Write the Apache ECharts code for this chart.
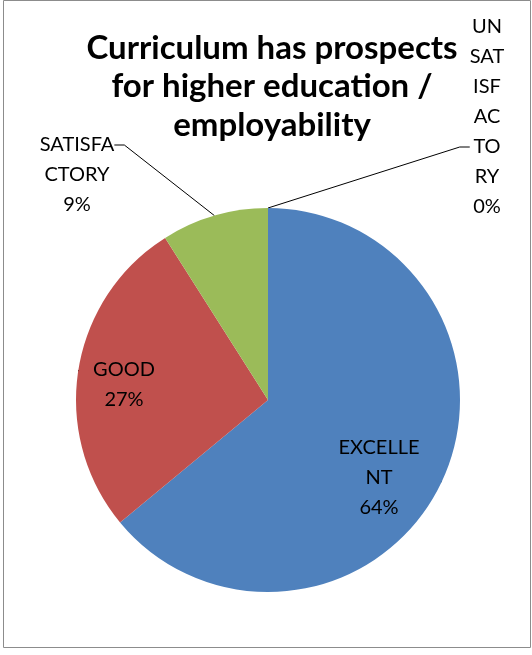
<!DOCTYPE html>
<html>
<head>
<meta charset="utf-8">
<script src="https://cdn.jsdelivr.net/npm/echarts@6/dist/echarts.min.js"></script>
<style>
  html, body { margin: 0; padding: 0; background: #fff; }
  #chart { width: 532px; height: 655px; }
</style>
</head>
<body>
<div id="chart"></div>
<script>
  // categories and shares (percent)
  var categories = ['EXCELLENT', 'GOOD', 'SATISFACTORY', 'UNSATISFACTORY']
  var values = [64, 27, 9, 0]
  // how the labels wrap in the picture
  var labelNames = ['EXCELLE\nNT', 'GOOD', 'SATISFA\nCTORY', 'UN\nSAT\nISF\nAC\nTO\nRY']
  var colors = ['#4F81BD', '#C0504D', '#9BBB59', '#8064A2']

  var chart = echarts.init(document.getElementById('chart'))

  // label centre + blank lines above/below so the leader line hits the right text line
  var labelPos = [
    { x: 379, y: 478, top: 0, bottom: 0 },
    { x: 124, y: 385, top: 0, bottom: 0 },
    { x: 77, y: 145, top: 2, bottom: 0 },
    { x: 487, y: 147, top: 0, bottom: 2 }
  ]

  function blank(n) {
    var s = ''
    for (let i = 0; i < n; i++) s += '\n'
    return s
  }

  var pieData = []
  for (let i = 0; i < categories.length; i++) {
    pieData.push({
      name: categories[i],
      value: values[i],
      itemStyle: { color: colors[i] }
    })
  }

  var option = {
    animation: false,
    title: {
      text: 'Curriculum has prospects\nfor higher education /\nemployability',
      left: 267,
      top: 24,
      textAlign: 'center',
      textStyle: {
        fontFamily: 'Lato',
        fontWeight: 'bold',
        fontSize: 33,
        lineHeight: 38.5,
        color: '#000'
      }
    },
    graphic: [{
      type: 'rect',
      shape: { x: 3.5, y: 0.5, width: 527, height: 647 },
      style: { fill: 'none', stroke: '#8c8c8c', lineWidth: 1 },
      silent: true
    }],
    series: [{
      type: 'pie',
      center: [268, 400],
      radius: 192,
      startAngle: 90,
      clockwise: true,
      minAngle: 0,
      avoidLabelOverlap: false,
      stillShowZeroSum: true,
      itemStyle: { borderWidth: 0 },
      label: {
        show: true,
        position: 'outside',
        formatter: function (p) {
          var lp = labelPos[p.dataIndex]
          return blank(lp.top) + labelNames[p.dataIndex] + '\n' + p.value + '%' + blank(lp.bottom)
        },
        fontFamily: 'Lato',
        fontSize: 20,
        lineHeight: 30,
        color: '#000',
        align: 'center'
      },
      labelLine: {
        show: true,
        length: 10,
        length2: 10,
        lineStyle: { color: '#000', width: 1 }
      },
      labelLayout: function (params) {
        var p = labelPos[params.dataIndex]
        return {
          x: p.x,
          y: p.y,
          align: 'center',
          verticalAlign: 'middle'
        }
      },
      data: pieData
    }]
  }
  chart.setOption(option)
</script>
</body>
</html>
